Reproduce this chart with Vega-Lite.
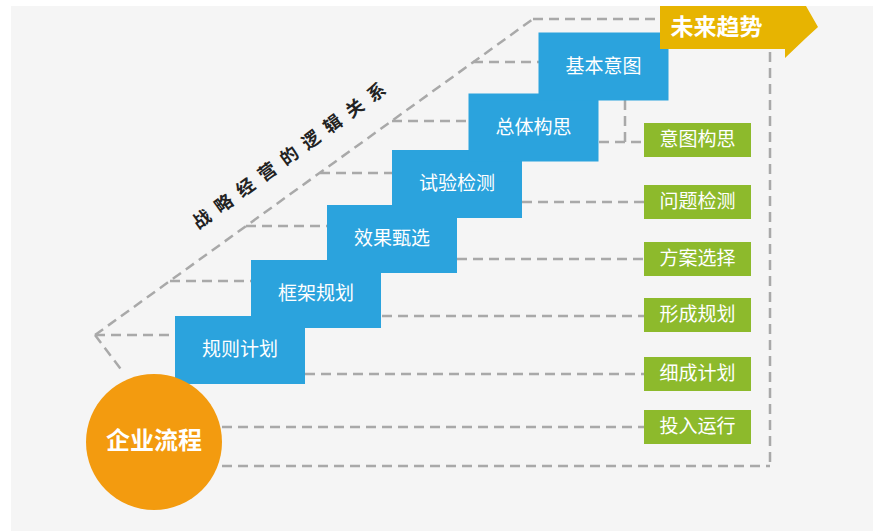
{
  "$schema": "https://vega.github.io/schema/vega-lite/v6.json",
  "width": 883,
  "height": 531,
  "autosize": {"type": "fit", "contains": "padding"},
  "padding": 0,
  "background": "#ffffff",
  "config": {"view": {"stroke": null}},
  "datasets": {
    "panel": [{"x": 11, "x2": 873, "y": 6, "y2": 531}],
    "dashes": [
      {"x": 95, "y": 335, "x2": 533, "y2": 19},
      {"x": 95, "y": 335, "x2": 123, "y2": 372},
      {"x": 533, "y": 19, "x2": 660, "y2": 19},
      {"x": 95, "y": 335, "x2": 175, "y2": 335},
      {"x": 170, "y": 281, "x2": 252, "y2": 281},
      {"x": 246, "y": 226, "x2": 327, "y2": 226},
      {"x": 320, "y": 173, "x2": 392, "y2": 173},
      {"x": 392, "y": 121, "x2": 468, "y2": 121},
      {"x": 473, "y": 62, "x2": 539, "y2": 62},
      {"x": 599, "y": 142, "x2": 644, "y2": 142},
      {"x": 625, "y": 100, "x2": 625, "y2": 142},
      {"x": 522, "y": 202, "x2": 644, "y2": 202},
      {"x": 457, "y": 259, "x2": 644, "y2": 259},
      {"x": 382, "y": 316, "x2": 644, "y2": 316},
      {"x": 305, "y": 374, "x2": 644, "y2": 374},
      {"x": 222, "y": 427, "x2": 644, "y2": 427},
      {"x": 222, "y": 466, "x2": 770, "y2": 466},
      {"x": 770, "y": 52, "x2": 770, "y2": 466}
    ],
    "steps": [
      {"label": "规则计划", "cx": 240, "cy": 350},
      {"label": "框架规划", "cx": 316, "cy": 294},
      {"label": "效果甄选", "cx": 392, "cy": 239},
      {"label": "试验检测", "cx": 457, "cy": 184},
      {"label": "总体构思", "cx": 533.5, "cy": 127.5},
      {"label": "基本意图", "cx": 603.5, "cy": 66.5}
    ],
    "results": [
      {"label": "意图构思", "cx": 697.5, "cy": 140},
      {"label": "问题检测", "cx": 697.5, "cy": 202},
      {"label": "方案选择", "cx": 697.5, "cy": 259},
      {"label": "形成规划", "cx": 697.5, "cy": 315},
      {"label": "细成计划", "cx": 697.5, "cy": 374},
      {"label": "投入运行", "cx": 697.5, "cy": 427}
    ],
    "hub": [{"label": "企业流程", "cx": 154, "cy": 442}],
    "trend": [{"label": "未来趋势", "cx": 722.5, "cy": 27.5}],
    "head": [
      {"x": 785, "top": 6, "bottom": 58},
      {"x": 806, "top": 6, "bottom": 38},
      {"x": 818, "top": 27, "bottom": 27}
    ],
    "caption": [{"label": "战\u2002略\u2002经\u2002营\u2002的\u2002逻\u2002辑\u2002关\u2002系", "cx": 290, "cy": 157}]
  },
  "layer": [
    {
      "data": {"name": "panel"},
      "mark": {"type": "rect", "color": "#f5f5f5"},
      "encoding": {
        "x": {"field": "x", "type": "quantitative", "scale": {"domain": [0, 883], "nice": false, "zero": false}, "axis": null},
        "x2": {"field": "x2"},
        "y": {"field": "y", "type": "quantitative", "scale": {"domain": [0, 531], "nice": false, "zero": false, "reverse": true}, "axis": null},
        "y2": {"field": "y2"}
      }
    },
    {
      "data": {"name": "dashes"},
      "mark": {"type": "rule", "stroke": "#a9a9a9", "strokeWidth": 2.5, "strokeDash": [10, 6]},
      "encoding": {
        "x": {"field": "x", "type": "quantitative", "axis": null},
        "x2": {"field": "x2"},
        "y": {"field": "y", "type": "quantitative", "axis": null},
        "y2": {"field": "y2"}
      }
    },
    {
      "data": {"name": "steps"},
      "mark": {"type": "rect", "width": 130, "height": 68, "color": "#2ba3dd"},
      "encoding": {
        "x": {"field": "cx", "type": "quantitative", "axis": null},
        "y": {"field": "cy", "type": "quantitative", "axis": null}
      }
    },
    {
      "data": {"name": "steps"},
      "mark": {"type": "text", "color": "#ffffff", "font": "Noto Sans CJK SC", "fontSize": 19, "baseline": "middle", "align": "center"},
      "encoding": {
        "x": {"field": "cx", "type": "quantitative", "axis": null},
        "y": {"field": "cy", "type": "quantitative", "axis": null},
        "text": {"field": "label"}
      }
    },
    {
      "data": {"name": "results"},
      "mark": {"type": "rect", "width": 107, "height": 34, "color": "#8dba2c"},
      "encoding": {
        "x": {"field": "cx", "type": "quantitative", "axis": null},
        "y": {"field": "cy", "type": "quantitative", "axis": null}
      }
    },
    {
      "data": {"name": "results"},
      "mark": {"type": "text", "color": "#ffffff", "font": "Noto Sans CJK SC", "fontSize": 19, "baseline": "middle", "align": "center"},
      "encoding": {
        "x": {"field": "cx", "type": "quantitative", "axis": null},
        "y": {"field": "cy", "type": "quantitative", "axis": null},
        "text": {"field": "label"}
      }
    },
    {
      "data": {"name": "hub"},
      "mark": {"type": "point", "shape": "circle", "filled": true, "size": 18496, "color": "#f39b0f", "opacity": 1, "strokeWidth": 0},
      "encoding": {
        "x": {"field": "cx", "type": "quantitative", "axis": null},
        "y": {"field": "cy", "type": "quantitative", "axis": null}
      }
    },
    {
      "data": {"name": "hub"},
      "mark": {"type": "text", "color": "#ffffff", "font": "Noto Sans CJK SC", "fontSize": 24, "fontWeight": "bold", "baseline": "middle", "align": "center"},
      "encoding": {
        "x": {"field": "cx", "type": "quantitative", "axis": null},
        "y": {"field": "cy", "type": "quantitative", "axis": null},
        "text": {"field": "label"}
      }
    },
    {
      "data": {"name": "trend"},
      "mark": {"type": "rect", "width": 125, "height": 43, "color": "#e7b401"},
      "encoding": {
        "x": {"field": "cx", "type": "quantitative", "axis": null},
        "y": {"field": "cy", "type": "quantitative", "axis": null}
      }
    },
    {
      "data": {"name": "head"},
      "mark": {"type": "area", "color": "#e7b401", "opacity": 1, "orient": "vertical"},
      "encoding": {
        "x": {"field": "x", "type": "quantitative", "axis": null},
        "y": {"field": "top", "type": "quantitative", "axis": null},
        "y2": {"field": "bottom"}
      }
    },
    {
      "data": {"name": "trend"},
      "mark": {"type": "text", "color": "#ffffff", "font": "Noto Sans CJK SC", "fontSize": 23, "fontWeight": "bold", "baseline": "middle", "align": "center", "dx": -6},
      "encoding": {
        "x": {"field": "cx", "type": "quantitative", "axis": null},
        "y": {"field": "cy", "type": "quantitative", "axis": null},
        "text": {"field": "label"}
      }
    },
    {
      "data": {"name": "caption"},
      "mark": {"type": "text", "color": "#222222", "font": "Noto Sans CJK SC", "fontSize": 18, "fontWeight": "bold", "baseline": "middle", "align": "center", "angle": -36},
      "encoding": {
        "x": {"field": "cx", "type": "quantitative", "axis": null},
        "y": {"field": "cy", "type": "quantitative", "axis": null},
        "text": {"field": "label"}
      }
    }
  ]
}
